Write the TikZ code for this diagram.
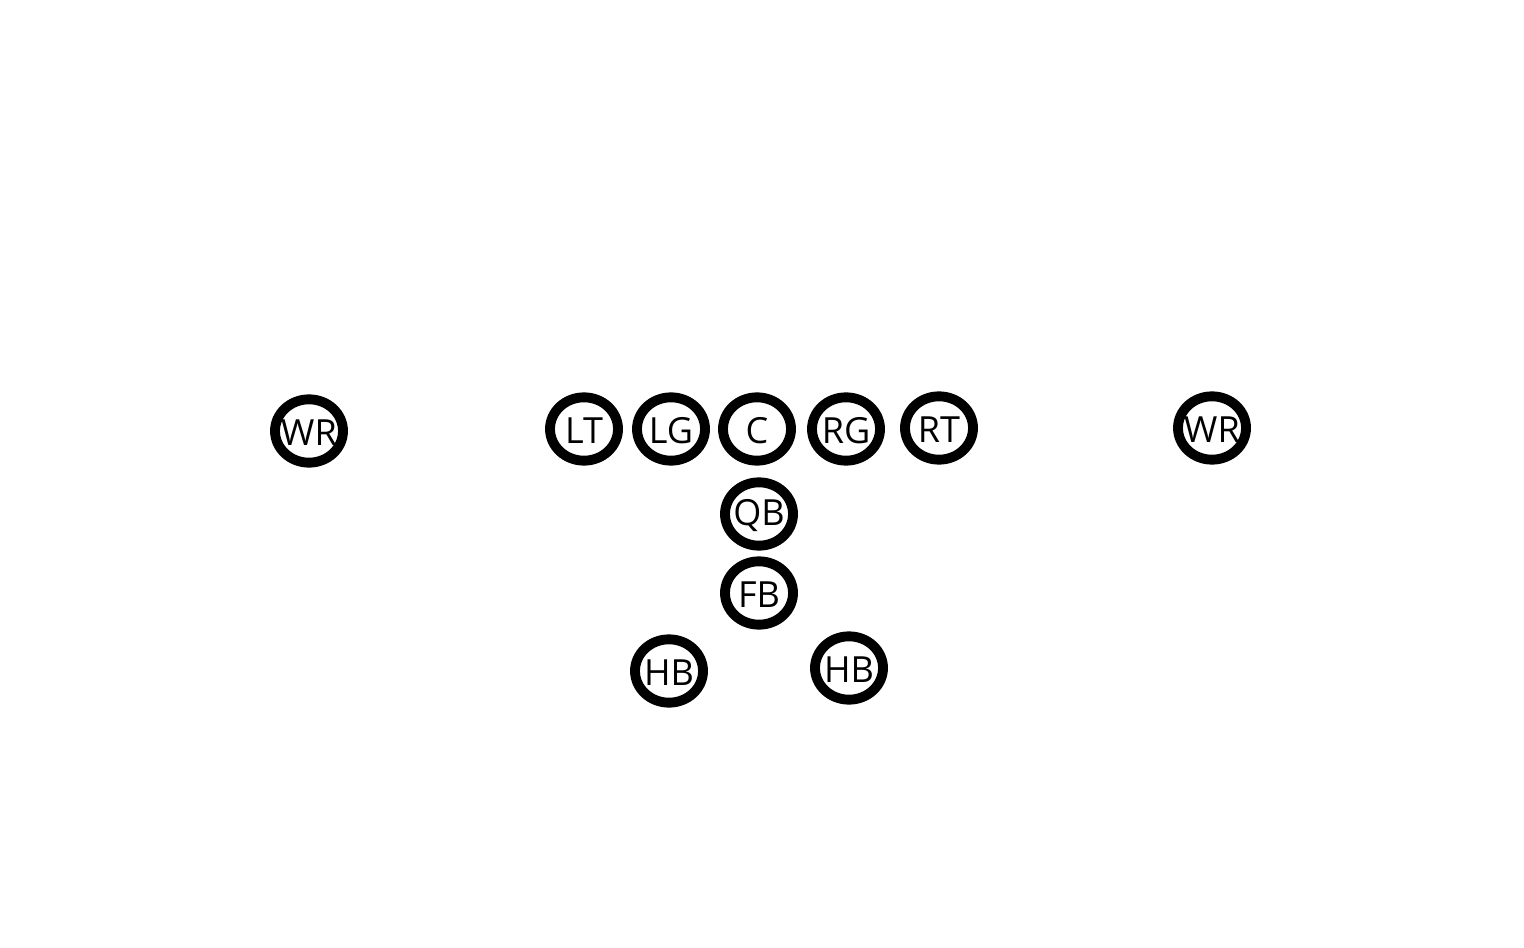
\documentclass[tikz,border=0pt]{standalone}
\usepackage{fontspec}
\setmainfont{Open Sans}
\usepackage{tikz}
\usetikzlibrary{shapes.geometric}

\tikzset{
  player/.style={draw, ellipse, line width=7.4pt, minimum width=51pt, minimum height=47.5pt, inner sep=0pt,
    label={[font=\fontsize{27}{27}\selectfont, inner sep=0pt, yshift=-1.5pt]center:#1}}
}

\begin{document}
\begin{tikzpicture}[x=0.75pt,y=0.75pt,yscale=-1,xscale=1]
\useasboundingbox (0,0) rectangle (1524,948);

%Shape: Circle [id:wr-left]
\node [player=WR] (wrL) at (309,431) {};
%Shape: Circle [id:line]
\node [player=LT] (lt) at (584,429) {};
\node [player=LG] (lg) at (671,429) {};
\node [player=C] (c) at (757,429) {};
\node [player=RG] (rg) at (846,429) {};
\node [player=RT] (rt) at (939,428) {};
%Shape: Circle [id:wr-right]
\node [player=WR] (wrR) at (1212,428) {};
%Shape: Circle [id:backfield]
\node [player=QB] (qb) at (759,514) {};
\node [player=FB] (fb) at (759,593) {};
\node [player=HB] (hbL) at (669,671) {};
\node [player=HB] (hbR) at (849,668) {};

\end{tikzpicture}
\end{document}
